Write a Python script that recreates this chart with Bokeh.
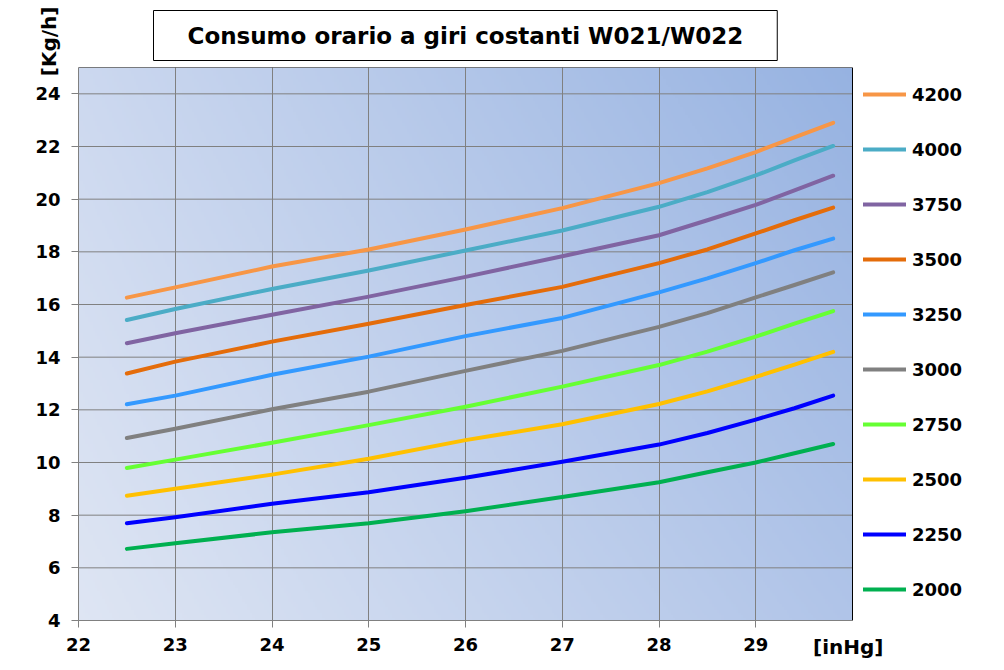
import numpy as np
from bokeh.plotting import figure
from bokeh.models import Range1d, FixedTicker, Legend, LegendItem, Title
from bokeh.embed import file_html
from bokeh.resources import INLINE

# ---------------- data ----------------
pressure_inhg = [22.5, 23, 24, 25, 26, 27, 28, 28.5, 29, 29.4, 29.8]

rpm_labels = ["4200", "4000", "3750", "3500", "3250", "3000", "2750", "2500", "2250", "2000"]

kg_h_4200 = [16.26, 16.65, 17.44, 18.09, 18.85, 19.66, 20.61, 21.17, 21.79, 22.35, 22.90]
kg_h_4000 = [15.41, 15.83, 16.59, 17.29, 18.05, 18.81, 19.71, 20.27, 20.90, 21.47, 22.02]
kg_h_3750 = [14.53, 14.91, 15.61, 16.30, 17.05, 17.83, 18.63, 19.20, 19.78, 20.33, 20.89]
kg_h_3500 = [13.38, 13.83, 14.59, 15.27, 15.98, 16.67, 17.57, 18.09, 18.70, 19.20, 19.68]
kg_h_3250 = [12.21, 12.54, 13.33, 14.02, 14.80, 15.49, 16.46, 16.99, 17.57, 18.06, 18.50]
kg_h_3000 = [10.93, 11.28, 12.02, 12.69, 13.48, 14.24, 15.15, 15.67, 16.27, 16.74, 17.22]
kg_h_2750 = [9.79, 10.11, 10.75, 11.42, 12.12, 12.88, 13.70, 14.21, 14.78, 15.27, 15.75]
kg_h_2500 = [8.74, 9.00, 9.54, 10.14, 10.85, 11.45, 12.22, 12.70, 13.25, 13.72, 14.20]
kg_h_2250 = [7.69, 7.92, 8.43, 8.87, 9.42, 10.03, 10.68, 11.12, 11.63, 12.06, 12.54]
kg_h_2000 = [6.72, 6.93, 7.35, 7.69, 8.15, 8.69, 9.25, 9.63, 10.00, 10.35, 10.70]

series_values = [kg_h_4200, kg_h_4000, kg_h_3750, kg_h_3500, kg_h_3250,
                 kg_h_3000, kg_h_2750, kg_h_2500, kg_h_2250, kg_h_2000]

series_colors = ["#f79646", "#4bacc6", "#8064a2", "#e46c0a", "#3399ff",
                 "#808080", "#66ff33", "#ffc000", "#0000ff", "#00b050"]

x_ticks = [22, 23, 24, 25, 26, 27, 28, 29]
y_ticks = [4, 6, 8, 10, 12, 14, 16, 18, 20, 22, 24]

title_text = "Consumo orario a giri costanti W021/W022"
y_unit = "[Kg/h]"
x_unit = "[inHg]"

# ---------------- layout / style ----------------
FONT = "DejaVu Sans"
X_LO, X_HI = 22, 30          # plot-area extent (axis range)
Y_LO, Y_HI = 4, 25
W, H = 1000, 666
LEFT, RIGHT, TOP, BOTTOM = 78, 10, 67, 46
AREA_PX = 774                # pixel width of the 22..30 plot area
frame_px = W - LEFT - RIGHT
X_END = X_LO + (X_HI - X_LO) * frame_px / AREA_PX   # frame extends right for the legend

p = figure(width=W, height=H,
           x_range=Range1d(X_LO, X_END), y_range=Range1d(Y_LO, Y_HI),
           output_backend="svg", toolbar_location=None,
           min_border_left=LEFT, min_border_right=RIGHT,
           min_border_top=TOP, min_border_bottom=BOTTOM)

p.border_fill_color = "white"
p.background_fill_color = "white"
p.outline_line_color = None

# gradient background of plot area
nx, ny = 320, 200
gx = np.linspace(0, 1, nx)[None, :]
gy = np.linspace(0, 1, ny)[:, None]
bl = np.array([222, 229, 243], float)
br = np.array([176, 196, 232], float)
tl = np.array([204, 216, 239], float)
tr = np.array([150, 178, 225], float)
img = np.empty((ny, nx, 4), dtype=np.uint8)
for k in range(3):
    c = (bl[k] * (1 - gx) * (1 - gy) + br[k] * gx * (1 - gy)
         + tl[k] * (1 - gx) * gy + tr[k] * gx * gy)
    img[:, :, k] = np.clip(np.round(c), 0, 255).astype(np.uint8)
img[:, :, 3] = 255
img32 = img.view(dtype=np.uint32).reshape((ny, nx))
p.image_rgba(image=[img32], x=X_LO, y=Y_LO, dw=X_HI - X_LO, dh=Y_HI - Y_LO, level="image")

# horizontal grid lines limited to the plot area
p.segment(x0=X_LO, x1=X_HI, y0=y_ticks, y1=y_ticks,
          line_color="#808080", line_width=1, level="underlay")
p.ygrid.visible = False
p.xgrid.ticker = FixedTicker(ticks=x_ticks)
p.xgrid.grid_line_color = "#808080"
p.xgrid.grid_line_width = 1

# plot-area border (top/right black; left/bottom covered by grey axes)
p.quad(left=X_LO, right=X_HI, bottom=Y_LO, top=Y_HI,
       fill_color=None, line_color="black", line_width=1)

# title
p.title.text = title_text
p.title.align = "left"
p.title.offset = 75
p.title.text_font = FONT
p.title.text_font_size = "23px"
p.title.text_font_style = "bold"
p.title.text_color = "black"
p.title.border_line_color = "black"
p.title.border_line_width = 1
p.title.background_fill_color = "white"
p.title.padding = (34, 12)
p.title.standoff = 14

# axes
p.xaxis.ticker = FixedTicker(ticks=x_ticks)
p.xaxis.bounds = (X_LO, X_HI)
p.yaxis.ticker = FixedTicker(ticks=y_ticks)
for ax in (p.xaxis[0], p.yaxis[0]):
    ax.axis_line_color = "#808080"
    ax.major_tick_line_color = "#808080"
    ax.major_tick_out = 7
    ax.major_tick_in = 0
    ax.minor_tick_line_color = None
    ax.major_label_text_font = FONT
    ax.major_label_text_font_size = "18px"
    ax.major_label_text_font_style = "bold"
    ax.major_label_text_color = "black"
p.xaxis.major_label_standoff = 10
p.yaxis.major_label_standoff = 11

# unit labels (as side titles)
y_unit_title = Title(text=y_unit, align="right", vertical_align="bottom",
                     offset=-61, standoff=-56,
                     text_font=FONT, text_font_size="20px",
                     text_font_style="bold", text_color="black")
p.add_layout(y_unit_title, "left")
x_unit_title = Title(text=x_unit, align="right", vertical_align="top",
                     offset=frame_px - AREA_PX - 31, standoff=-38,
                     text_font=FONT, text_font_size="20px",
                     text_font_style="bold", text_color="black")
p.add_layout(x_unit_title, "below")

# curves
items = []
for lab, vals, col in zip(rpm_labels, series_values, series_colors):
    r = p.line(pressure_inhg, vals, line_color=col, line_width=4,
               line_cap="round", line_join="round")
    items.append(LegendItem(label=lab, renderers=[r]))

legend = Legend(items=items, location=(AREA_PX + 11, 15))
legend.glyph_width = 43
legend.glyph_height = 32
legend.label_height = 32
legend.spacing = 23
legend.padding = 11
legend.margin = 0
legend.label_standoff = 6
legend.background_fill_alpha = 0
legend.border_line_color = None
legend.label_text_font = FONT
legend.label_text_font_size = "18px"
legend.label_text_font_style = "bold"
legend.label_text_color = "black"
p.add_layout(legend)

open("out.html", "w").write(file_html(p, INLINE))
